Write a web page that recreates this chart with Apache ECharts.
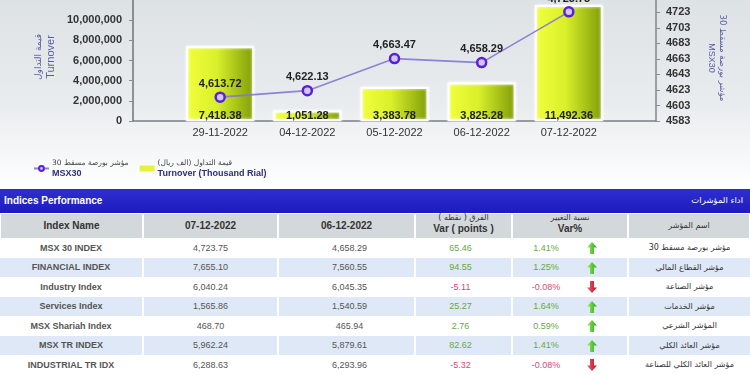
<!DOCTYPE html>
<html><head><meta charset="utf-8">
<script src="https://cdn.jsdelivr.net/npm/echarts@6/dist/echarts.min.js"></script>
<style>
html,body{margin:0;padding:0;width:750px;height:375px;overflow:hidden;background:#fff;font-family:"Liberation Sans",Arial,"DejaVu Sans",sans-serif;}
#bg{position:absolute;left:0;top:0;width:750px;height:189px;background:linear-gradient(to bottom,#dde2e5 0%,#e9ecee 55%,#ffffff 100%);}
#chart{position:absolute;left:0;top:0;width:750px;height:189px;}
#table{position:absolute;left:0;top:189px;width:750px;height:186px;}
.cell{position:absolute;box-sizing:border-box;display:flex;align-items:center;justify-content:center;text-align:center;white-space:nowrap;}
.title{position:absolute;left:0;top:0;width:750px;height:24px;background:linear-gradient(to bottom,#2f2fd0,#1c1cbe);color:#fff;font-weight:bold;font-size:10px;}
.hdr{background:#d3d8db;color:#333;font-weight:bold;font-size:10px;line-height:12px;flex-direction:column;}
.ar{font-family:"DejaVu Sans","Noto Sans",sans-serif;direction:rtl;}
.name{font-weight:bold;color:#555;font-size:9px;}
.val{color:#555;font-size:9px;}
.up{color:#6aa83c;font-size:9px;}
.dn{color:#d24a7a;font-size:9px;}
</style>
</head><body>
<div id="bg"></div>
<div id="chart"></div>
<div id="table"></div>
<script>
// ---- chart data ----
const dates = ['29-11-2022','04-12-2022','05-12-2022','06-12-2022','07-12-2022'];
const turnover = [7418.38, 1051.28, 3383.78, 3825.28, 11492.36]; // thousand rial
const msx30 = [4613.72, 4622.13, 4663.47, 4658.29, 4723.75];

// ---- table data ----
const tableHeaders = ['Index Name','07-12-2022','06-12-2022'];
const indexNames = ['MSX 30 INDEX','FINANCIAL INDEX','Industry Index','Services Index','MSX Shariah Index','MSX TR INDEX','INDUSTRIAL TR IDX'];
const indexNamesAr = ['مؤشر بورصة مسقط 30','مؤشر القطاع المالي','مؤشر الصناعة','مؤشر الخدمات','المؤشر الشرعي','مؤشر العائد الكلي','مؤشر العائد الكلي للصناعة'];
const valuesCurrent = [4723.75, 7655.10, 6040.24, 1565.86, 468.70, 5962.24, 6288.63];
const valuesPrevious = [4658.29, 7560.55, 6045.35, 1540.59, 465.94, 5879.61, 6293.96];
const varPoints = [65.46, 94.55, -5.11, 25.27, 2.76, 82.62, -5.32];
const varPercent = [1.41, 1.25, -0.08, 1.64, 0.59, 1.41, -0.08];

const fmt2 = v => v.toLocaleString('en-US',{minimumFractionDigits:2,maximumFractionDigits:2});
const FONT = '"Liberation Sans", Arial, "DejaVu Sans", sans-serif';
const RLE = '\u202B', PDF = '\u202C';

const chart = echarts.init(document.getElementById('chart'), null, {renderer:'canvas'});
const padCat = arr => [''].concat(arr, ['']);
const pad = arr => [null].concat(arr, [null]);

chart.setOption({
  animation:false,
  textStyle:{fontFamily:FONT},
  grid:{left:133, right:94, top:-5, bottom:68},
  legend:{
    left:28, top:154, itemWidth:15, itemHeight:6, itemGap:11,
    data:[{name:'MSX30'},{name:'Turnover', icon:'rect', itemStyle:{color:'#e6f238', borderWidth:0}}],
    formatter: n => n==='MSX30'
      ? '{ar|'+RLE+'مؤشر بورصة مسقط 30'+PDF+'}\n{en|MSX30}'
      : '{ar|'+RLE+'قيمة التداول (الف ريال)'+PDF+'}\n{en|Turnover (Thousand Rial)}',
    textStyle:{padding:[0,0,0,-2], rich:{
      ar:{fontSize:7.5, color:'#444', lineHeight:10, fontFamily:'"DejaVu Sans", sans-serif'},
      en:{fontSize:9, fontWeight:'bold', color:'#2c2f78', lineHeight:11, fontFamily:FONT}
    }}
  },
  xAxis:{
    type:'category', boundaryGap:false, data:padCat(dates),
    axisLine:{lineStyle:{color:'#7a7f86', width:1.5}},
    axisTick:{show:false},
    axisLabel:{interval:0, color:'#333', fontSize:11, margin:6, fontFamily:FONT}
  },
  yAxis:[{
    type:'value', min:0, max:12000, interval:2000, position:'left',
    axisLine:{show:true, lineStyle:{color:'#6d737a', width:1.5}},
    axisTick:{show:true, length:4, inside:false, lineStyle:{color:'#8a8f95'}},
    splitLine:{show:false},
    axisLabel:{color:'#333', fontWeight:'bold', fontSize:11, margin:11, showMaxLabel:false,
      formatter: v => (v*1000).toLocaleString('en-US')}
  },{
    type:'value', min:4583, max:4739, interval:20, position:'right',
    axisLine:{show:true, lineStyle:{color:'#80868c', width:1.5}},
    axisTick:{show:true, length:4, lineStyle:{color:'#8a8f95'}},
    splitLine:{show:false},
    axisLabel:{color:'#333', fontWeight:'bold', fontSize:11, margin:10, showMaxLabel:false,
      formatter: v => String(Math.round(v))}
  }],
  series:[{
    name:'Turnover', type:'bar', yAxisIndex:0, barWidth:68, z:2,
    data:pad(turnover),
    itemStyle:{
      color:new echarts.graphic.LinearGradient(0,0,1,0,[
        {offset:0,color:'#f2ff3c'},{offset:0.45,color:'#d9f02a'},{offset:1,color:'#7f9c08'}]),
      borderColor:'#ffffff', borderWidth:2,
      shadowColor:'rgba(255,255,255,0.9)', shadowBlur:3
    },
    label:{show:true, position:'insideBottom', distance:0, color:'#222', fontWeight:'bold', fontSize:11,
      formatter:p => fmt2(p.value)}
  },{
    name:'MSX30', type:'line', yAxisIndex:1, z:5,
    data:pad(msx30),
    lineStyle:{color:'#8277d4', width:1.6, opacity:0.9},
    symbol:'circle', symbolSize:9,
    itemStyle:{color:'#cfc6ff', borderColor:'#5a1fd6', borderWidth:2.5},
    label:{show:true, position:'top', distance:2, color:'#222', fontWeight:'bold', fontSize:11,
      formatter:p => fmt2(p.value)}
  }],
  graphic:[
    {type:'text', x:44.5, y:57, rotation:Math.PI/2,
     style:{text:'{a|قيمة التداول}\n{b|Turnover}', align:'center', verticalAlign:'middle',
       rich:{a:{fill:'#5b5ca8', fontSize:9, lineHeight:12, fontFamily:'"DejaVu Sans", sans-serif', align:'center'},
             b:{fill:'#5b5ca8', fontSize:11, lineHeight:12, fontFamily:FONT, align:'center'}}}},
    {type:'text', x:716.5, y:58, rotation:-Math.PI/2,
     style:{text:'{a|'+RLE+'مؤشر بورصة مسقط 30'+PDF+'}\n{b|MSX30}', align:'center', verticalAlign:'middle',
       rich:{a:{fill:'#5b5ca8', fontSize:8.5, lineHeight:11, fontFamily:'"DejaVu Sans", sans-serif', align:'center'},
             b:{fill:'#5b5ca8', fontSize:9, lineHeight:11, fontFamily:FONT, align:'center'}}}}
  ]
});

// ---- table ----
const cols = [[0,143],[143,278],[278,415],[415,512],[512,628],[628,750]];
const T = document.getElementById('table');
function cell(x0,x1,top,h,cls,html,bg,extra){
  const d=document.createElement('div');
  d.className='cell '+cls;
  d.style.left=x0+'px'; d.style.width=(x1-x0)+'px';
  d.style.top=top+'px'; d.style.height=h+'px';
  if(bg) d.style.background=bg;
  if(extra) Object.assign(d.style, extra);
  d.innerHTML=html; T.appendChild(d); return d;
}
const title=document.createElement('div'); title.className='title'; T.appendChild(title);
title.innerHTML='<span style="position:absolute;left:4px;top:6px;">Indices Performance</span><span class="ar" style="position:absolute;right:7px;top:6px;font-weight:normal;font-size:8.5px;">اداء المؤشرات</span>';

const hdrTop=25, hdrH=24;
const hdrTexts=[tableHeaders[0],tableHeaders[1],tableHeaders[2],
  '<span class="ar" style="font-weight:normal;font-size:8px;line-height:10px;margin-top:-4px">الفرق ( نقطه )</span><span>Var ( points )</span>',
  '<span class="ar" style="font-weight:normal;font-size:8px;line-height:10px;margin-top:-4px">نسبة التغيير</span><span>Var%</span>',
  '<span class="ar" style="font-weight:normal;font-size:8px;color:#333">اسم المؤشر</span>'];
cols.forEach((c,i)=>cell(c[0]+1,c[1]-1,hdrTop,hdrH,'hdr',hdrTexts[i]));

const upSvg='<svg width="10" height="12" viewBox="0 0 10 12"><defs><linearGradient id="gu" x1="0" x2="1"><stop offset="0" stop-color="#9cf04a"/><stop offset="1" stop-color="#22a82a"/></linearGradient></defs><polygon points="5,0 10,5.5 7,5.5 7,12 3,12 3,5.5 0,5.5" fill="url(#gu)"/></svg>';
const dnSvg='<svg width="10" height="12" viewBox="0 0 10 12"><defs><linearGradient id="gd" x1="0" x2="1"><stop offset="0" stop-color="#f06070"/><stop offset="1" stop-color="#b8102a"/></linearGradient></defs><polygon points="3,0 7,0 7,6.5 10,6.5 5,12 0,6.5 3,6.5" fill="url(#gd)"/></svg>';

const rowTop=49, rowH=19.5;
indexNames.forEach((nm,r)=>{
  const top=rowTop+r*rowH;
  const bg = r%2===1 ? '#dee8f6' : '#ffffff';
  const up = varPoints[r]>=0;
  const cls = up?'up':'dn';
  cell(cols[0][0],cols[0][1]-1,top,rowH,'name',nm,bg);
  cell(cols[1][0]+1,cols[1][1]-1,top,rowH,'val',fmt2(valuesCurrent[r]),bg);
  cell(cols[2][0]+1,cols[2][1]-1,top,rowH,'val',fmt2(valuesPrevious[r]),bg,{paddingLeft:'6px'});
  cell(cols[3][0]+1,cols[3][1]-1,top,rowH,cls,fmt2(varPoints[r]),bg,{paddingRight:'6px'});
  const c4=cell(cols[4][0]+1,cols[4][1]-1,top,rowH,cls,'',bg);
  c4.innerHTML='<span style="position:absolute;left:0;width:66px;text-align:center;">'+fmt2(varPercent[r])+'%</span><span style="position:absolute;left:74px;top:4px;">'+(up?upSvg:dnSvg)+'</span>';
  cell(cols[5][0]+1,cols[5][1],top,rowH,'ar',indexNamesAr[r],bg,{fontSize:'8px',color:'#333'});
});
</script>
</body></html>
